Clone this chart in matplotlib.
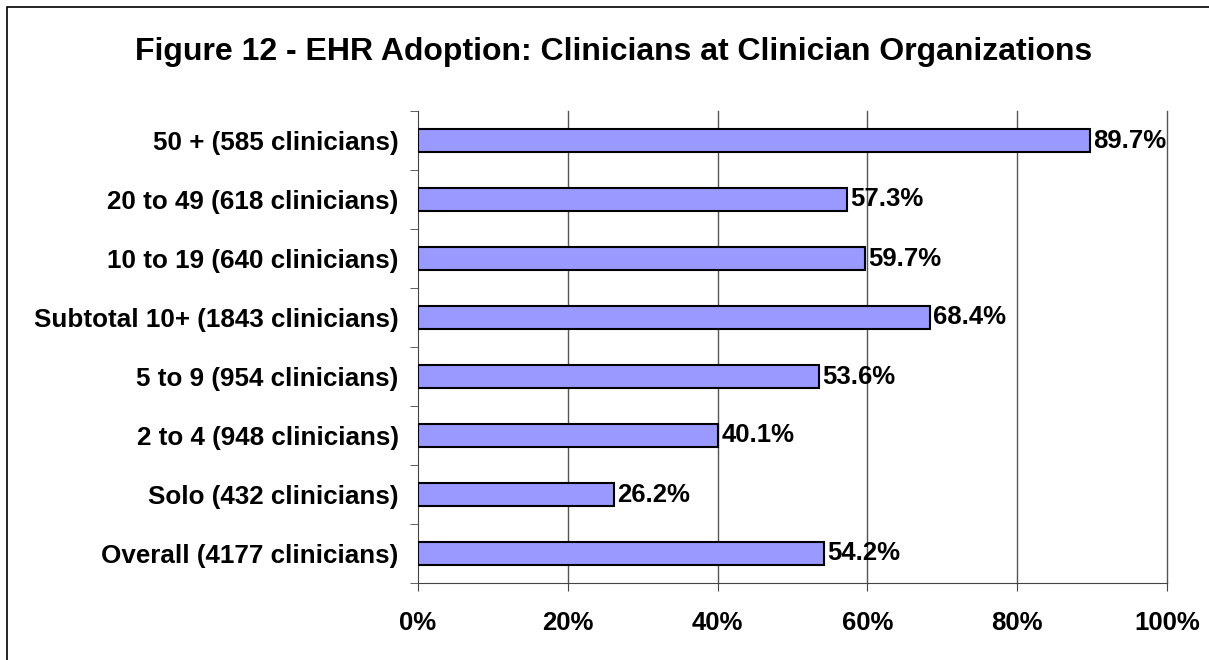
import matplotlib
matplotlib.use("Agg")
import matplotlib.pyplot as plt
from matplotlib.patches import Rectangle

categories = ["50 + (585 clinicians)", "20 to 49 (618 clinicians)", "10 to 19 (640 clinicians)",
              "Subtotal 10+ (1843 clinicians)", "5 to 9 (954 clinicians)", "2 to 4 (948 clinicians)",
              "Solo (432 clinicians)", "Overall (4177 clinicians)"]
values = [89.7, 57.3, 59.7, 68.4, 53.6, 40.1, 26.2, 54.2]
xticks = [0, 20, 40, 60, 80, 100]
xtick_labels = ["0%", "20%", "40%", "60%", "80%", "100%"]
title = "Figure 12 - EHR Adoption: Clinicians at Clinician Organizations"

plt.rcParams['font.family'] = ['Liberation Sans', 'DejaVu Sans']

fig = plt.figure(figsize=(12.09, 6.6), dpi=100)
fig.patches.append(Rectangle((7/1209, -0.1), 1.2, 1 - 7/660 + 0.1, transform=fig.transFigure,
                             fill=False, edgecolor='black', linewidth=1.2))
ax = fig.add_axes([418/1209, 1 - 583/660, (1167 - 418)/1209, (583 - 111)/660])

n = len(categories)
ypos = list(range(n - 1, -1, -1))
ax.barh(ypos, values, height=0.39, color='#9999FF', edgecolor='black', linewidth=1.5, zorder=3)
for y, v in zip(ypos, values):
    ax.text(v + 0.4, y, f"{v:.1f}%", va='center', ha='left', fontsize=18.5, fontweight='bold')

ax.set_xlim(0, 100)
ax.set_ylim(-0.5, n - 0.5)
ax.set_xticks(xticks)
ax.set_xticklabels(xtick_labels, fontsize=18.5, fontweight='bold')
ax.set_yticks(ypos)
ax.set_yticklabels(categories, fontsize=18.7, fontweight='bold')
ax.set_yticks([i - 0.5 for i in range(n + 1)], minor=True)
ax.tick_params(axis='y', which='major', length=0, pad=14)
ax.tick_params(axis='y', which='minor', length=6, direction='out', color='#444444')
ax.tick_params(axis='x', which='major', length=6, direction='out', color='#444444', pad=14)
for t in xticks[1:]:
    ax.axvline(t, color='#555555', linewidth=1, zorder=0, clip_on=False)
for s in ['top', 'right']:
    ax.spines[s].set_visible(False)
ax.spines['left'].set_color('#444444')
ax.spines['bottom'].set_color('#444444')

fig.text(614/1209, 1 - 60/660, title, ha='center', va='baseline', fontsize=23, fontweight='bold')

fig.savefig("out.png", dpi=100)
